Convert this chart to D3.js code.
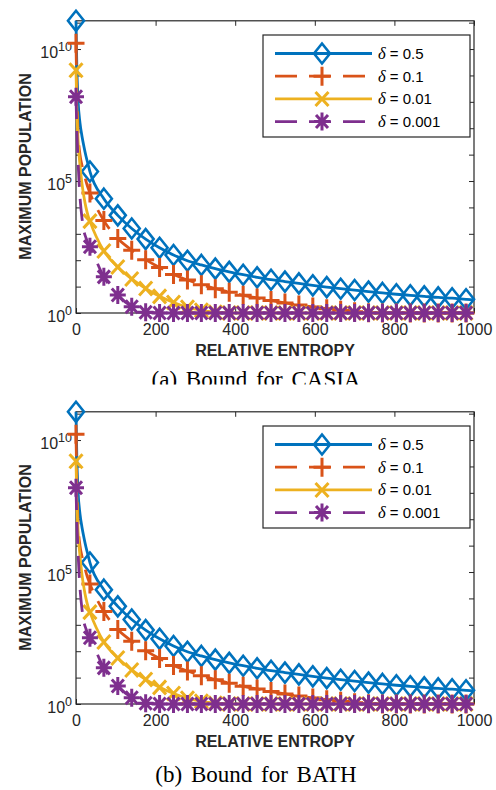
<!DOCTYPE html>
<html><head><meta charset="utf-8">
<script src="https://cdn.jsdelivr.net/npm/d3@7"></script>
<style>body{margin:0;background:#fff}svg{display:block}</style>
</head><body>
<svg id="c" width="496" height="790"></svg>
<script>
// ---------------- data ----------------
const relEntropy = [0,2,5,10,15,20,25,30,35,70,105,140,175,210,245,280,315,350,385,420,455,490,525,560,595,630,665,700,735,770,805,840,875,910,945,980,1000];
const markerEntropy = [0,35,70,105,140,175,210,245,280,315,350,385,420,455,490,525,560,595,630,665,700,735,770,805,840,875,910,945,980];

const popDelta05 = [1.175e11,2.51e9,1.26e8,1.58e7,5.01e6,2.0e6,8.9e5,4.47e5,
  2.29e5,2.14e4,5010,1585,631,295,158,95.5,66.1,47.9,36.3,28.2,22.4,18.2,15.5,13.2,11.2,9.55,8.32,7.41,6.46,5.75,5.13,4.68,4.27,3.89,3.63,3.31,
  3.16];
const popDelta01 = [1.66e10,3.16e8,7.94e6,1.0e6,3.98e5,2.0e5,1.0e5,5.62e4,
  3.55e4,3162,661,240,105,52.5,28.8,17.8,11.7,8.32,6.17,4.68,3.72,2.95,2.40,2.00,1.70,1.45,1.26,1.12,1.02,1,1,1,1,1,1,1,
  1];
const popDelta001 = [1.58e9,6.31e7,3.98e6,3.98e5,7.94e4,2.51e4,1.0e4,5012,
  3020,224,55.0,19.5,8.51,4.27,2.51,1.66,1.26,1.07,1,1,1,1,1,1,1,1,1,1,1,1,1,1,1,1,1,1,
  1];
const popDelta0001 = [1.55e8,1e7,6.31e5,2.51e4,3981,1259,708,447,
  324,23.4,4.79,1.74,1.07,1,1,1,1,1,1,1,1,1,1,1,1,1,1,1,1,1,1,1,1,1,1,1,
  1];

const deltaLabels = ["0.5","0.1","0.01","0.001"];
const xTickValues = [0,200,400,600,800,1000];
const yTickExponents = [0,1,2,3,4,5,6,7,8,9,10,11];
const yLabelExponents = [0,5,10];
const captions = ["(a) Bound for CASIA","(b) Bound for BATH"];
const xLabel = "RELATIVE ENTROPY";
const yLabel = "MAXIMUM POPULATION";

// ---------------- styles ----------------
const colors = ["#0072BD","#D95319","#EDB120","#7E2F8E"];
const dashes = [null,"22,12",null,"22,12"];
const markerTypes = ["diamond","plus","x","star"];
const axisColor = "#262626";

const svg = d3.select("#c");
svg.append("rect").attr("width",496).attr("height",790).attr("fill","#fff");

const allSeries = [popDelta05,popDelta01,popDelta001,popDelta0001];
const yMax = d3.max(allSeries, s => d3.max(s));

function markerPath(type){
  switch(type){
    case "diamond": return "M0,-10L8,0L0,10L-8,0Z";
    case "plus": return "M-8.5,0H8.5M0,-9.5V9.5";
    case "x": return "M-6.5,-7L6.5,7M-6.5,7L6.5,-7";
    case "star": return "M-8,0H8M0,-9V9M-6,-6.5L6,6.5M-6,6.5L6,-6.5";
  }
}
function markerWidth(type){ return type==="diamond"?2.6:3; }

function drawPanel(dy, caption, capY, clipBottom, series, idx){
  const g = svg.append("g").attr("transform",`translate(0,${dy})`);
  const x = d3.scaleLinear().domain([0,1000]).range([76,474]);
  const y = d3.scaleLog().domain([1,yMax]).range([313,20.8]);
  const yTicks = yTickExponents.map(e => Math.pow(10,e));

  const fontCss = "font-family:'Liberation Sans',Arial,sans-serif;";
  const gx = g.append("g").attr("transform","translate(0,313)")
    .call(d3.axisBottom(x).tickValues(xTickValues).tickSizeInner(-5).tickSizeOuter(0).tickPadding(10.5).tickFormat(d3.format("d")));
  gx.select(".domain").remove();
  gx.selectAll("line").attr("stroke",axisColor);
  gx.selectAll("text").attr("style",fontCss).attr("font-size",16).attr("fill",axisColor);

  const gt = g.append("g").attr("transform",`translate(0,${y(yMax)})`)
    .call(d3.axisTop(x).tickValues(xTickValues).tickSizeInner(-5).tickSizeOuter(0).tickFormat(""));
  gt.select(".domain").remove();
  gt.selectAll("line").attr("stroke",axisColor);

  const gl = g.append("g").attr("transform","translate(76,0)")
    .call(d3.axisLeft(y).tickValues(yTicks).tickSizeInner(-5).tickSizeOuter(0).tickFormat(""));
  gl.select(".domain").remove();
  gl.selectAll("line").attr("stroke",axisColor);

  const gr = g.append("g").attr("transform","translate(474,0)")
    .call(d3.axisRight(y).tickValues(yTicks).tickSizeInner(-5).tickSizeOuter(0).tickFormat(""));
  gr.select(".domain").remove();
  gr.selectAll("line").attr("stroke",axisColor);

  yLabelExponents.forEach(e => {
    const t = g.append("text").attr("x",72).attr("y",y(Math.pow(10,e))+9)
      .attr("text-anchor","end").attr("style",fontCss).attr("fill",axisColor).attr("font-size",16);
    t.append("tspan").text("10");
    t.append("tspan").attr("font-size",12.5).attr("dy",-7).text(String(e));
  });

  g.append("rect").attr("x",76).attr("y",y(yMax)).attr("width",398).attr("height",313-y(yMax))
    .attr("fill","none").attr("stroke",axisColor).attr("stroke-width",1.2);

  const line = d3.line().x(d=>x(d[0])).y(d=>y(d[1])).curve(d3.curveMonotoneX);
  series.forEach((vals,k) => {
    const pts = relEntropy.map((r,i)=>[r,vals[i]]);
    g.append("path").attr("d",line(pts)).attr("fill","none")
      .attr("stroke",colors[k]).attr("stroke-width",2.8)
      .attr("stroke-dasharray",dashes[k]);
    const mpts = pts.filter(p => markerEntropy.includes(p[0]));
    g.selectAll(null).data(mpts).enter().append("path")
      .attr("transform",d=>`translate(${x(d[0])},${y(d[1])})`)
      .attr("d",markerPath(markerTypes[k])).attr("fill","none")
      .attr("stroke",colors[k]).attr("stroke-width",markerWidth(markerTypes[k]));
  });

  const lg = g.append("g");
  lg.append("rect").attr("x",263).attr("y",35).attr("width",207).attr("height",102)
    .attr("fill","#fff").attr("stroke",axisColor).attr("stroke-width",1.2);
  deltaLabels.forEach((lab,k)=>{
    const ly = 53.5 + k*22.7;
    lg.append("line").attr("x1",275).attr("x2",372).attr("y1",ly).attr("y2",ly)
      .attr("stroke",colors[k]).attr("stroke-width",2.8).attr("stroke-dasharray",dashes[k]);
    lg.append("path").attr("transform",`translate(322,${ly})`).attr("d",markerPath(markerTypes[k]))
      .attr("fill","none").attr("stroke",colors[k]).attr("stroke-width",markerWidth(markerTypes[k]));
    const t = lg.append("text").attr("x",378).attr("y",ly+5.5).attr("fill","#000").attr("font-size",15)
      .attr("style",fontCss);
    t.append("tspan").attr("style","font-family:'Liberation Serif','Times New Roman',serif;font-style:italic").attr("font-size",16.5).text("δ");
    t.append("tspan").text(" = "+lab);
  });

  g.append("text").attr("x",275).attr("y",356).attr("text-anchor","middle")
    .attr("style",fontCss).attr("font-weight","bold").attr("font-size",16).attr("fill",axisColor).text(xLabel);
  g.append("text").attr("transform","translate(31,166.5) rotate(-90)").attr("text-anchor","middle")
    .attr("style",fontCss).attr("font-weight","bold").attr("font-size",16).attr("fill",axisColor).text(yLabel);

  const clipId = "capclip"+idx;
  g.append("clipPath").attr("id",clipId).append("rect").attr("x",0).attr("y",0).attr("width",496).attr("height",clipBottom);
  g.append("text").attr("x",256).attr("y",capY).attr("text-anchor","middle")
    .attr("clip-path",`url(#${clipId})`)
    .attr("style","font-family:'Liberation Serif','Times New Roman',serif;word-spacing:3px")
    .attr("font-size",23).attr("fill","#000").text(caption);
}

drawPanel(0, captions[0], 387, 384.5, allSeries, 0);
drawPanel(391, captions[1], 391, 500, allSeries, 1);
</script>
</body></html>
